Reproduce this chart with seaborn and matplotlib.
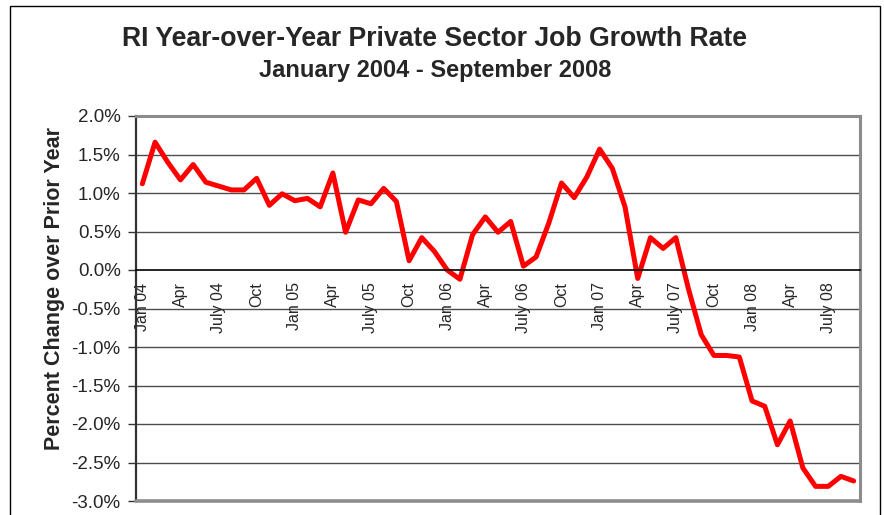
import numpy as np
import pandas as pd
import matplotlib
matplotlib.use("Agg")
import matplotlib.pyplot as plt
from matplotlib.patches import Rectangle
from matplotlib.ticker import FuncFormatter, MultipleLocator, FixedLocator
import seaborn as sns

# Monthly year-over-year change in RI private sector employment (%)
months = pd.date_range("2004-01-01", "2008-09-01", freq="MS").strftime("%Y-%m").tolist()
growth_2004 = [1.12, 1.66, 1.40, 1.17, 1.37, 1.14, 1.09, 1.04, 1.04, 1.19, 0.84, 0.99]
growth_2005 = [0.90, 0.93, 0.82, 1.26, 0.49, 0.91, 0.86, 1.06, 0.89, 0.12, 0.42, 0.24]
growth_2006 = [0.00, -0.12, 0.46, 0.69, 0.49, 0.63, 0.05, 0.17, 0.61, 1.13, 0.94, 1.21]
growth_2007 = [1.57, 1.32, 0.82, -0.11, 0.42, 0.28, 0.42, -0.25, -0.84, -1.11, -1.11, -1.13]
growth_2008 = [-1.70, -1.77, -2.27, -1.96, -2.57, -2.81, -2.81, -2.68, -2.74]

tick_labels = ["Jan 04", "Apr", "July 04", "Oct",
               "Jan 05", "Apr", "July 05", "Oct",
               "Jan 06", "Apr", "July 06", "Oct",
               "Jan 07", "Apr", "July 07", "Oct",
               "Jan 08", "Apr", "July 08"]

values = growth_2004 + growth_2005 + growth_2006 + growth_2007 + growth_2008
df = pd.DataFrame({"month": months, "pos": np.arange(len(months)), "growth": values})

sns.set_style("white")
plt.rcParams["font.family"] = ["Liberation Sans", "DejaVu Sans"]

fig = plt.figure(figsize=(8.84, 5.15), dpi=100)
ax = fig.add_axes([136 / 884, 1 - 501 / 515, (860 - 136) / 884, (501 - 116) / 515])

sns.lineplot(data=df, x="pos", y="growth", ax=ax, color="#FF0000", linewidth=3.6)

n = len(df)
ax.set_xlim(-0.5, n - 0.5)
ax.set_ylim(-3.0, 2.0)

# horizontal gridlines every half point
ax.yaxis.set_major_locator(MultipleLocator(0.5))
ax.yaxis.set_major_formatter(FuncFormatter(lambda v, _: f"{v:.1f}%"))
for v in np.arange(-2.5, 2.0, 0.5):
    if abs(v) > 1e-9:
        ax.axhline(v, color="#4d4d4d", linewidth=1.0, zorder=0)

# category axis sits on the zero line
ax.spines["bottom"].set_position(("data", 0))
ax.spines["bottom"].set_color("black")
ax.spines["bottom"].set_linewidth(1.2)
ax.spines["left"].set_color("#333333")
ax.spines["left"].set_linewidth(1.6)
for side in ("top", "right"):
    ax.spines[side].set_color("#8c8c8c")
    ax.spines[side].set_linewidth(2.2)
ax.axhline(-3.0, color="#8c8c8c", linewidth=2.6, clip_on=False, zorder=3)

ax.xaxis.set_major_locator(FixedLocator(np.arange(0, n, 3)))
ax.set_xticklabels(tick_labels, rotation=90, fontsize=11.5)
ax.xaxis.set_minor_locator(FixedLocator(np.arange(-0.5, n, 1.0)))
ax.tick_params(axis="x", which="major", length=0, pad=9)
ax.tick_params(axis="x", which="minor", length=5, width=1.0, color="black", direction="out")
for lbl in ax.get_xticklabels():
    lbl.set_verticalalignment("top")

ax.tick_params(axis="y", which="major", left=True, length=6, width=1.0,
               color="#333333", direction="out", pad=5, labelsize=13.5)

ax.set_xlabel("")
ax.set_ylabel("")

fig.text(55 / 884, 1 - 289 / 515, "Percent Change over Prior Year", rotation=90,
         ha="center", va="center", fontsize=15.5, fontweight="bold")
fig.text(434 / 884, 1 - 39 / 515, "RI Year-over-Year Private Sector Job Growth Rate",
         ha="center", va="center", fontsize=19.2, fontweight="bold")
fig.text(435 / 884, 1 - 71 / 515, "January 2004 - September 2008",
         ha="center", va="center", fontsize=17, fontweight="bold")

# chart area frame
fig.patches.append(Rectangle((10 / 884, -0.05), 870 / 884, 1.05 - 6 / 515,
                             transform=fig.transFigure, fill=False,
                             edgecolor="black", linewidth=1.0))

fig.savefig("out.png", dpi=100)
